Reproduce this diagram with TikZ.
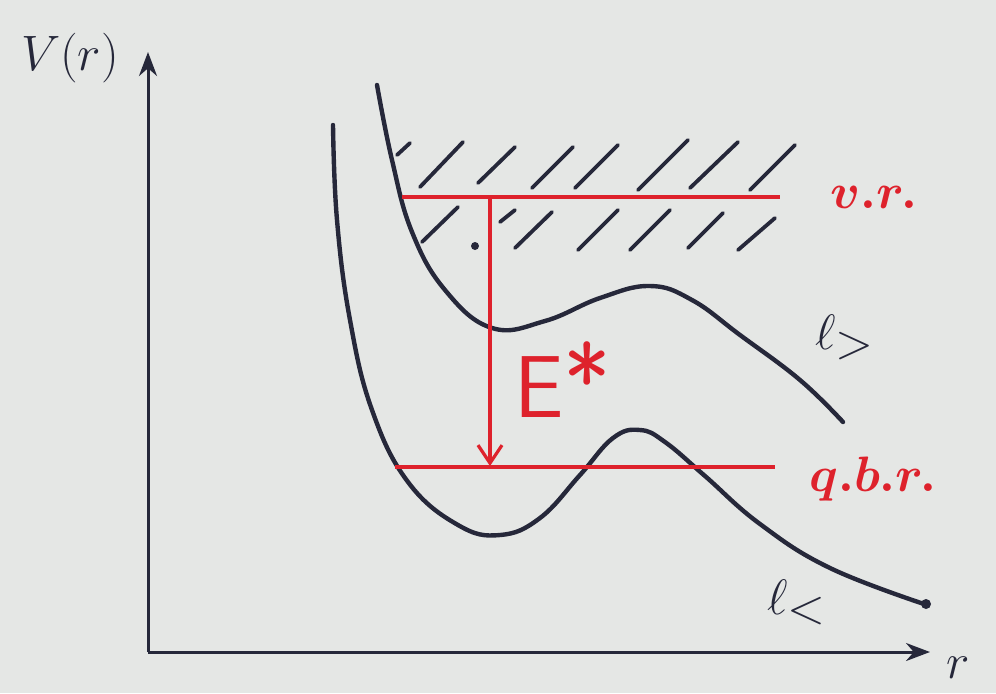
\documentclass[tikz,border=0pt]{standalone}
\usepackage{tikz}
\usepackage{graphicx}
\usetikzlibrary{arrows.meta, positioning}
\definecolor{inkdark}{RGB}{38,40,58}
\definecolor{inkred}{RGB}{222,34,44}
\definecolor{paper}{RGB}{229,231,229}
\tikzset{
  axis/.style={-{Stealth[length=12pt,width=9pt]}, line width=1.5pt, color=inkdark},
  curve/.style={line width=2.2pt, color=inkdark, line cap=round},
  level/.style={line width=2.4pt, color=inkred},
  hatch/.style={line width=1.9pt, color=inkdark, line cap=round},
  redarrow/.style={-{Straight Barb[length=9pt,width=12pt]}, line width=1.6pt, color=inkred},
  redlabel/.style={color=inkred, inner sep=0pt, font=\fontsize{44}{44}\selectfont\boldmath},
  inklabel/.style={color=inkdark, inner sep=0pt, font=\fontsize{40}{40}\selectfont}
}
\begin{document}
\begin{tikzpicture}[x=0.5pt, y=-0.5pt]
  \fill[paper] (0,0) rectangle (996,693);
  \useasboundingbox (0,0) rectangle (996,693);

  % axes
  \coordinate (O) at (148,652);
  \coordinate (ytop) at (148,52);
  \coordinate (xend) at (930,652);
  \draw[axis] (O) -- (ytop);
  \draw[axis] (O) -- (xend);
  \node[inklabel] (Vlab) at (70,58) {$V(r)$};
  \node[inklabel] (rlab) at (958,668) {$r$};

  % hatching of the continuum
  \foreach \a/\b/\c/\d in {397/155/410/143, 420/187/463/142, 478/183/515/147,
      532/188/573/147, 575/188/618/145, 638/190/688/140, 690/188/738/142,
      750/190/795/145, 422/242/458/207, 500/222/515/210, 515/248/552/212,
      578/250/618/210, 630/250/670/210, 688/248/723/213, 738/250/775/218}
    \draw[hatch] (\a,\b) -- (\c,\d);
  \fill[inkdark] (475,246) circle (2pt);

  % potential curves
  \draw[curve] plot[smooth, tension=0.7] coordinates {(377,85) (392,160) (412,232)
      (445,290) (492,328) (545,321) (600,298) (650,286) (692,300) (740,335)
      (800,380) (843,422)};
  \draw[curve] plot[smooth, tension=0.7] coordinates {(333,125) (337,220) (350,320)
      (372,410) (408,482) (458,525) (500,535) (540,518) (580,475) (613,438)
      (640,430) (665,442) (705,476) (760,524) (830,568) (927,605)};
  \fill[inkdark] (926,604) circle (2.5pt);
  \node[inklabel] (lgt) at (845,337) {$\ell_>$};
  \node[inklabel] (llt) at (797,602) {$\ell_<$};

  % levels
  \coordinate (vrL) at (402,197);
  \coordinate (vrR) at (780,197);
  \coordinate (qbL) at (395,467);
  \coordinate (qbR) at (775,467);
  \draw[level] (vrL) -- (vrR);
  \draw[level] (qbL) -- (qbR);
  \node[redlabel, right=25pt of vrR] (vr) {$v.r.$};
  \node[redlabel, right=17pt of qbR, yshift=-6pt] (qbr) {$q.b.r.$};

  % transition
  \coordinate (Etop) at (490,197);
  \coordinate (Ebot) at (490,466);
  \draw[redarrow] (Etop) -- (Ebot);
  \node[redlabel, font=\fontsize{44}{44}\selectfont\sffamily, anchor=base west]
    (Estar) at (514,417) {E\scalebox{1.15}{*}};
\end{tikzpicture}
\end{document}
